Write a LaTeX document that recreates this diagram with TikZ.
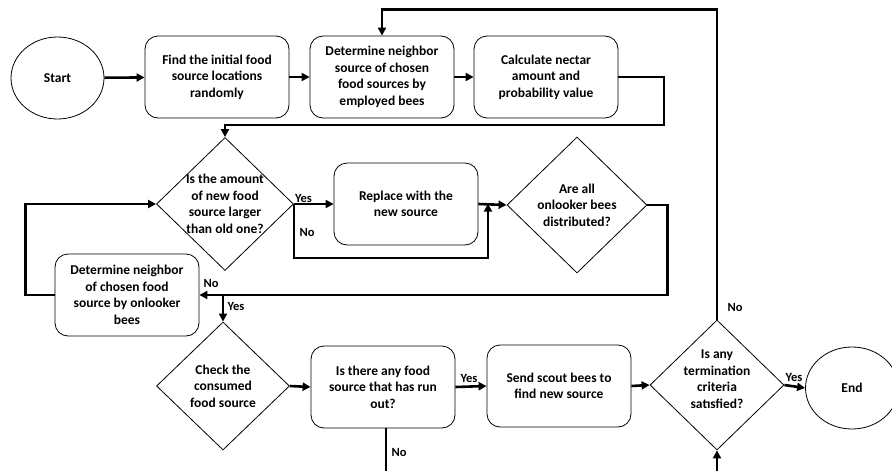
\documentclass[tikz,border=0pt]{standalone}
\usepackage{fontspec}
\setmainfont{Carlito}
\usetikzlibrary{shapes.geometric,arrows.meta}
\tikzset{
  procbox/.style={draw, line width=0.8pt, rounded corners=13pt, minimum width=144pt, minimum height=82pt,
    align=center, font=\bfseries\fontsize{13.5}{16.6}\selectfont, inner sep=2pt},
  decision/.style={draw, diamond, line width=0.8pt, inner sep=0pt},
  dtext/.style={align=center, font=\bfseries\fontsize{13.5}{16.6}\selectfont, inner sep=0pt},
  terminal/.style={draw, ellipse, line width=0.8pt, minimum width=93pt, minimum height=82pt,
    font=\bfseries\fontsize{13.5}{16}\selectfont},
  flow/.style={line width=2.6pt, -{Triangle[length=8pt,width=8pt]}},
  plain/.style={line width=2.6pt},
  lbl/.style={font=\bfseries\fontsize{12.5}{14}\selectfont, inner sep=1pt}
}
\begin{document}
\begin{tikzpicture}[x=1pt,y=-1pt]
\useasboundingbox (0,0) rectangle (892,471);
\clip (0,0) rectangle (892,471);
% nodes
\node[terminal] (start) at (57.5,78) {Start};
\node[procbox] (b1) at (217,77) {Find the initial food\\source locations\\randomly};
\node[procbox] (b2) at (382,77) {Determine neighbor\\source of chosen\\food sources by\\employed bees};
\node[procbox] (b3) at (546,77) {Calculate nectar\\amount and\\probability value};
\node[decision, minimum width=137pt, minimum height=133pt,
  label={[dtext]center:Is the amount\\of new food\\source larger\\than old one?}] (d1) at (225,204) {};
\node[procbox] (repl) at (406,204) {Replace with the\\new source};
\node[decision, minimum width=140pt, minimum height=136pt,
  label={[dtext]center:Are all\\onlooker bees\\distributed?}] (d2) at (577,205) {};
\node[procbox] (b4) at (127,295) {Determine neighbor\\of chosen food\\source by onlooker\\bees};
\node[decision, minimum width=133pt, minimum height=128pt,
  label={[dtext]center:Check the\\consumed\\food source}] (d3) at (223,386) {};
\node[procbox] (b5) at (383,387) {Is there any food\\source that has run\\out?};
\node[procbox] (b6) at (559,386) {Send scout bees to\\find new source};
\node[decision, minimum width=134pt, minimum height=130pt,
  label={[dtext, yshift=6pt]center:Is any\\termination\\criteria\\satısfied?}] (d4) at (717,385) {};
\node[terminal] (end) at (852,388) {End};
% helper coordinates
\coordinate (c3) at (664,125);
\coordinate (jn) at (488,205);
\coordinate (bot5) at (386,471);
\coordinate (bot4) at (717,471);
% connectors
\draw[flow] (start) -- (b1);
\draw[flow] (b1) -- (b2);
\draw[flow] (b2) -- (b3);
\draw[flow] (b3.east) -| (c3) -| (d1.north);
\draw[flow] (d4.north) -- ++(0,-310) -| (b2.north);
\draw[flow] (d1.east) -- (repl.west);
\node[lbl, above right] at (d1.east) {Yes};
\draw[flow] (d1.east) -- ++(0,54) -| ([yshift=1.3pt]jn);
\node[lbl] at (307,232) {No};
\draw[flow] (repl.east) -- (d2.west);
\draw[flow] (d2.east) -- ++(20,0) |- (b4.east);
\node[lbl] at (211,283) {No};
\draw[flow] (d3.north |- b4.east) -- (d3.north);
\node[lbl] at (236,306) {Yes};
\draw[flow] (b4.west) -- ++(-29,0) |- (d1.west);
\draw[flow] (d3.east) -- (b5.west);
\draw[flow] (b5.east) -- (b6.west);
\node[lbl] at (469,378) {Yes};
\draw[flow] (b6.east) -- (d4.west);
\draw[flow] (d4.east) -- (end.west);
\node[lbl] at (794,377) {Yes};
\node[lbl] at (735,307) {No};
\draw[plain] (b5.south -| bot5) -- (bot5);
\node[lbl] at (399,452) {No};
\draw[flow] (bot4) -- (d4.south);
\end{tikzpicture}
\end{document}
